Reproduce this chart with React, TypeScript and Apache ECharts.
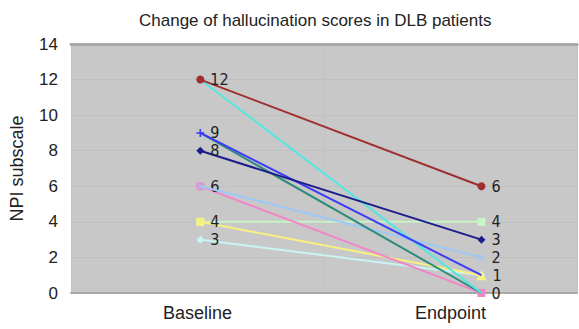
import React, { useEffect, useRef } from "react";
import * as echarts from "echarts";

const title = "Change of hallucination scores in DLB patients";
const categories = ["Baseline", "Endpoint"];
const yTicks = [0, 2, 4, 6, 8, 10, 12, 14];
const baseline = [3, 4, 4, 6, 6, 9, 12, 9, 8, 12];
const endpoint = [1, 4, 1, 0, 2, 0, 0, 1, 3, 6];
const colors = ["#c8f4f4", "#c8f4c8", "#f8f080", "#f088c8", "#a0c8f4", "#2e8b7c", "#50e8e0", "#3c3cf4", "#1c1c8c", "#a03030"];
const labelBase = [true, false, true, true, false, false, false, true, true, true];
const labelEnd = [false, true, true, true, true, false, false, false, true, true];

const PLUS = "path://M4,0H6V4H10V6H6V10H4V6H0V4H4Z";
const CROSS = "path://M0,1L1,0L5,4L9,0L10,1L6,5L10,9L9,10L5,6L1,10L0,9L4,5Z";
const symbolsBase = ["diamond", "rect", "rect", "rect", CROSS, "none", "none", PLUS, "diamond", "circle"];
const symbolsEnd = ["diamond", "rect", "triangle", "rect", CROSS, "none", "none", "none", "diamond", "circle"];

const FONT = "Liberation Sans, Arial, sans-serif";

export default function App() {
  const ref = useRef<HTMLDivElement>(null);
  useEffect(() => {
    if (!ref.current) return;
    const chart = echarts.init(ref.current, null, { renderer: "svg" });
    const labelStyle = {
      position: "right",
      distance: 6,
      fontFamily: "Liberation Sans Narrow, DejaVu Sans Condensed, sans-serif",
      fontSize: 16,
      lineHeight: 16,
      color: "#222",
    };
    const series = baseline.map((b, i) => ({
      type: "line",
      name: "S" + (i + 1),
      xAxisIndex: 1,
      symbolSize: 8,
      color: colors[i],
      lineStyle: { width: 2, color: colors[i] },
      itemStyle: { color: colors[i] },
      z: 3 + i,
      data: [
        { value: [0, b], symbol: symbolsBase[i], label: { show: labelBase[i], ...labelStyle } },
        {
          value: [1, endpoint[i]],
          symbol: symbolsEnd[i],
          symbolSize: symbolsEnd[i] === "triangle" ? 10 : 8,
          label: { show: labelEnd[i], ...labelStyle },
        },
      ],
    }));
    chart.setOption({
      animation: false,
      title: {
        text: title,
        left: 134,
        top: 7,
        textStyle: { fontFamily: FONT, fontSize: 17, fontWeight: "normal", color: "#222" },
      },
      grid: { left: 71, right: 2, top: 44, bottom: 36, show: true, backgroundColor: "#c8c8c8", borderWidth: 0 },
      xAxis: [
        {
          type: "category",
          data: categories,
          boundaryGap: true,
          position: "bottom",
          axisLine: { show: true, lineStyle: { color: "#a8a8a8", width: 2 } },
          axisTick: { show: false },
          splitLine: { show: true, lineStyle: { color: "#c2c2c2", width: 1 } },
          axisLabel: { margin: 11, fontSize: 18, color: "#222", fontFamily: FONT },
        },
        {
          type: "value",
          min: -0.46,
          max: 1.34,
          position: "top",
          axisLine: { show: true, onZero: false, lineStyle: { color: "#a8a8a8", width: 3 } },
          axisTick: { show: false },
          axisLabel: { show: false },
          splitLine: { show: false },
        },
      ],
      yAxis: {
        type: "value",
        min: yTicks[0],
        max: yTicks[yTicks.length - 1],
        interval: 2,
        name: "NPI subscale",
        nameLocation: "middle",
        nameGap: 45,
        nameTextStyle: { fontSize: 18, color: "#222", fontFamily: FONT },
        axisLine: { show: false },
        axisTick: { show: false },
        axisLabel: { margin: 13, fontSize: 17, color: "#222", fontFamily: FONT },
        splitLine: { show: true, lineStyle: { color: "#c0c0c0", width: 1 } },
      },
      series,
    });
    return () => chart.dispose();
  }, []);
  return <div ref={ref} style={{ width: 579, height: 329, position: "absolute", left: 0, top: 0 }} />;
}
